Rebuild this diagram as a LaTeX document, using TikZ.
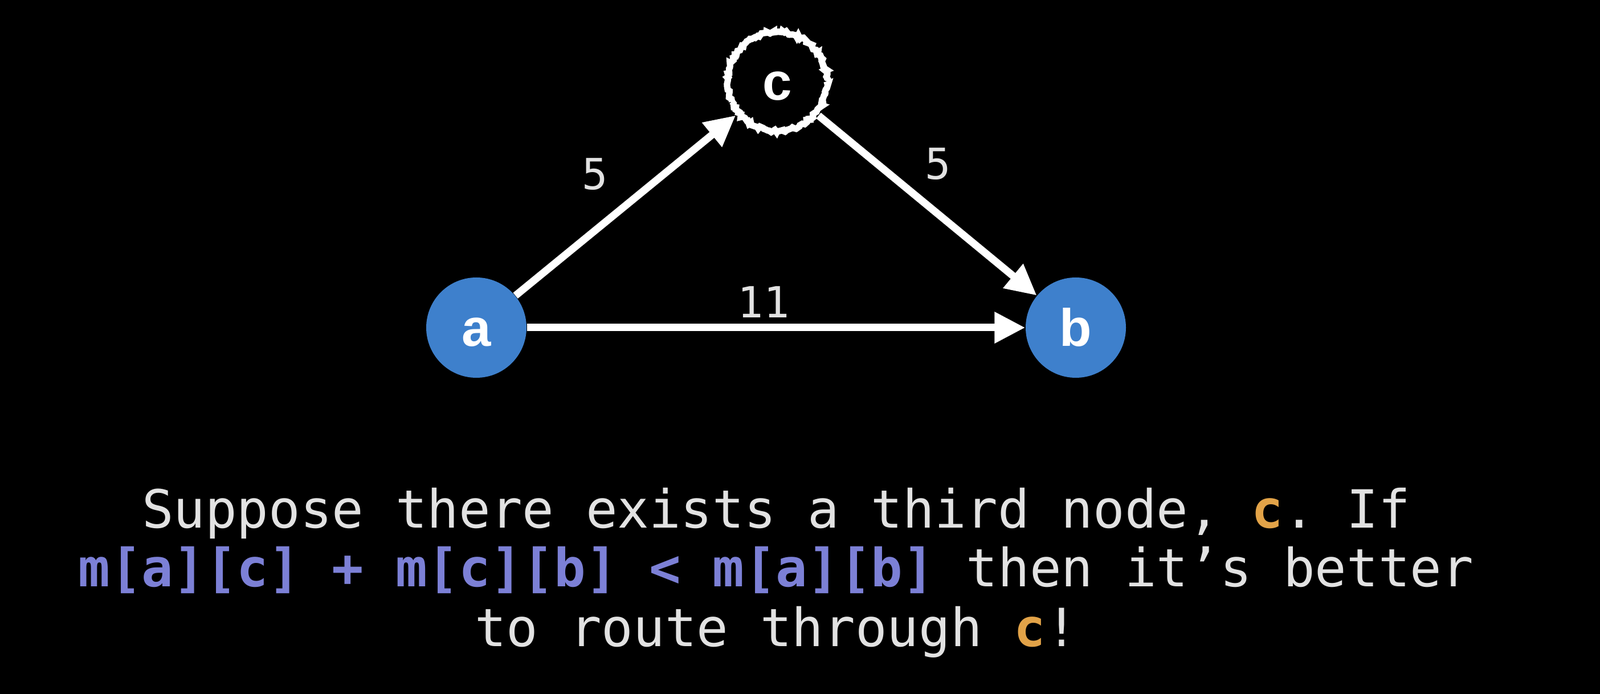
\documentclass[tikz,border=0pt]{standalone}
\usepackage{fontspec}
\setmainfont{Liberation Sans}
\setmonofont{DejaVu Sans Mono}
\usepackage{xcolor}
\usetikzlibrary{arrows.meta,decorations.pathmorphing}

\definecolor{nodeblue}{RGB}{62,128,204}
\definecolor{codepurple}{RGB}{124,128,214}
\definecolor{hiorange}{RGB}{226,163,72}
\definecolor{textgray}{RGB}{226,226,226}

\tikzset{
  vertex/.style={circle, fill=nodeblue, minimum size=1.76cm, inner sep=0pt,
    text=white, text height=18.7pt, text depth=0pt,
    font=\fontsize{26.3}{30}\selectfont\bfseries},
  pickvertex/.style={circle, draw=white, line width=3.2pt, minimum size=1.74cm,
    inner sep=0pt, outer sep=2pt, text=white, text height=18.7pt, text depth=0pt,
    font=\fontsize{26.3}{30}\selectfont\bfseries,
    decorate, decoration={random steps, segment length=1pt, amplitude=0.7pt}},
  arrow/.style={draw=white, line width=3.7pt, -{Triangle[length=0.54cm,width=0.52cm]}},
  weight/.style={text=textgray, font=\fontsize{21.4}{24}\selectfont\ttfamily},
  caption/.style={anchor=base, text=textgray,
    font=\fontsize{26.3}{30.7}\selectfont\ttfamily}
}
\newcommand{\code}[1]{\textcolor{codepurple}{\bfseries #1}}
\newcommand{\hic}{\textcolor{hiorange}{\bfseries c}}

\begin{document}
\begin{tikzpicture}
% background and page size
\fill[black] (0,0) rectangle (28.08,12.18);
\useasboundingbox (0,0) rectangle (28.08,12.18);

% the three nodes
\node[vertex] (a) at (8.36,6.43) {a};
\node[vertex] (b) at (18.88,6.43) {b};
\node[pickvertex] (c) at (13.64,10.75) {c};

% edges & weights
\draw[arrow] (a) -- (c);
\draw[arrow] (c) -- (b);
\draw[arrow] (a) -- (b);
\node[weight] (wac) at (10.44,9.12) {5};
\node[weight] (wcb) at (16.46,9.30) {5};
\node[weight] (wab) at (13.40,6.88) {11};

% explanation
\node[caption] (line1) at (13.62,2.91) {Suppose there exists a third node, \hic. If};
\node[caption] (line2) at (13.62,1.88) {\code{m[a][c]} \code{+} \code{m[c][b]} \code{<} \code{m[a][b]} then it’s better};
\node[caption] (line3) at (13.62,0.83) {to route through \hic!};
\end{tikzpicture}
\end{document}
